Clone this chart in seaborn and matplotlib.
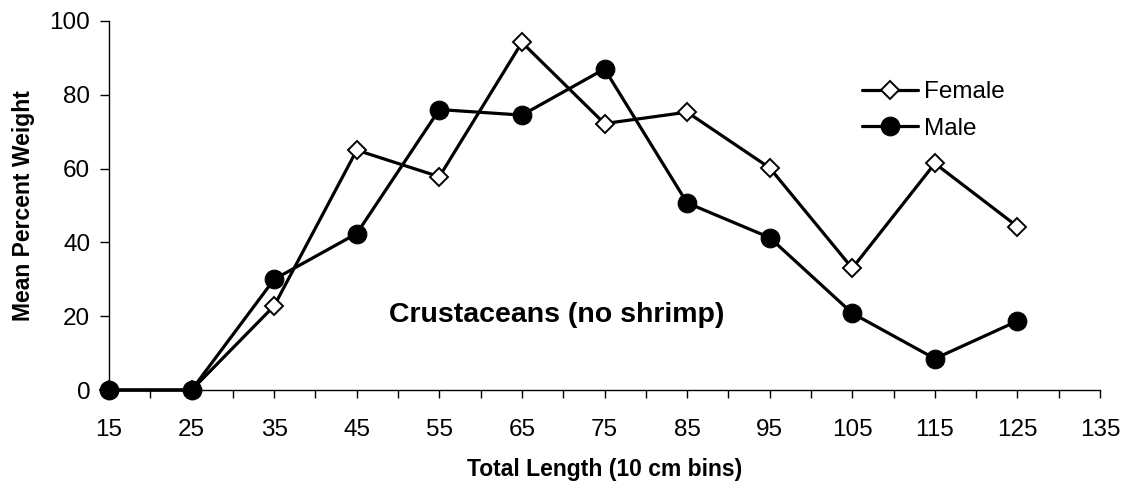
import matplotlib
matplotlib.use("Agg")
import matplotlib.pyplot as plt
import seaborn as sns
import pandas as pd

# Total length bins (cm) and mean percent weight of crustaceans (no shrimp)
length_bins = [15, 25, 35, 45, 55, 65, 75, 85, 95, 105, 115, 125]
female = [0, 0, 22.8, 65, 57.8, 94.2, 72.2, 75.3, 60.2, 33.0, 61.4, 44.3]
male = [0, 0, 30.0, 42.4, 76.0, 74.5, 87.0, 50.7, 41.3, 20.8, 8.5, 18.7]
x_ticks = [15, 25, 35, 45, 55, 65, 75, 85, 95, 105, 115, 125, 135]
y_ticks = [0, 20, 40, 60, 80, 100]

df = pd.DataFrame({"length": length_bins, "Female": female, "Male": male})

sns.set_style("white")
plt.rcParams["font.family"] = ["Liberation Sans", "DejaVu Sans"]
plt.rcParams["text.color"] = "black"
plt.rcParams["axes.labelcolor"] = "black"
plt.rcParams["xtick.color"] = "black"
plt.rcParams["ytick.color"] = "black"

fig = plt.figure(figsize=(11.27, 4.86), dpi=100)
ax = fig.add_axes([0.0967, 0.1975, 0.8794, 0.7593])

sns.lineplot(data=df, x="length", y="Female", ax=ax, color="black", lw=2.3,
             marker="D", markersize=9, markerfacecolor="white",
             markeredgecolor="black", markeredgewidth=1.4, label="Female",
             clip_on=False)
sns.lineplot(data=df, x="length", y="Male", ax=ax, color="black", lw=2.3,
             marker="o", markersize=13.5, markerfacecolor="black",
             markeredgecolor="black", label="Male", clip_on=False)

ax.set_xlim(15, 135)
ax.set_ylim(0, 100)
ax.set_xticks(x_ticks)
ax.set_xticks(range(20, 135, 10), minor=True)
ax.set_yticks(y_ticks)
ax.tick_params(axis="both", which="both", direction="out", color="black",
               labelsize=17.5, width=1, bottom=True, left=True)
ax.tick_params(axis="x", which="both", length=5.8, pad=15)
ax.tick_params(axis="y", length=6.5, pad=7)

for side in ["top", "right"]:
    ax.spines[side].set_visible(False)
for side in ["left", "bottom"]:
    ax.spines[side].set_color("black")
    ax.spines[side].set_linewidth(1)

ax.set_xlabel("Total Length (10 cm bins)", fontsize=16.5, fontweight="bold")
ax.set_ylabel("Mean Percent Weight", fontsize=16.5, fontweight="bold")
ax.xaxis.set_label_coords(0.5, -0.183)
ax.yaxis.set_label_coords(-0.0747, 0.5)

ax.text(69.2, 20.3, "Crustaceans (no shrimp)", fontsize=20.5, fontweight="bold",
        ha="center", va="center")

ax.legend(loc="center left", bbox_to_anchor=(0.76, 0.757), frameon=False,
          fontsize=17.5, handlelength=2.3, handletextpad=0.25,
          labelspacing=0.6, borderpad=0, borderaxespad=0)

fig.savefig("out.png", dpi=100)
